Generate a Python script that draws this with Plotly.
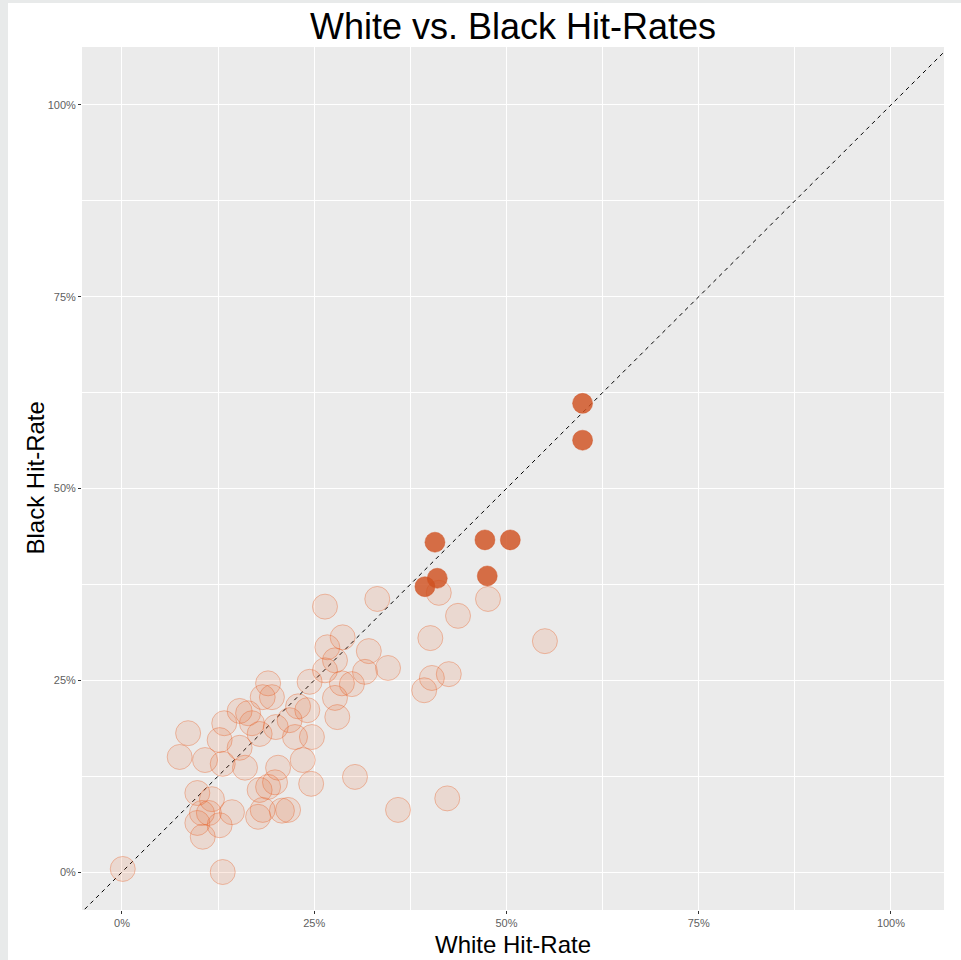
import plotly.graph_objects as go

# Light points (all cities) - White hit-rate vs Black hit-rate, in %
light_white = [0.1, 13.1, 10.5, 9.8, 12.7, 10.4, 11.3, 14.3, 9.8, 11.7,
               17.7, 18.3, 20.8, 21.6, 17.9, 19.0, 19.9, 24.6, 20.3, 23.5,
               16.0, 13.1, 10.8, 7.5, 8.6, 12.7, 15.3, 13.3, 15.3, 16.4,
               16.9, 17.9, 20.0, 21.8, 22.9, 24.1, 24.7, 22.5, 19.0, 19.5,
               18.3, 24.4, 28.0, 27.7, 29.9, 28.6, 31.6, 34.6, 32.1, 27.7,
               26.7, 28.7, 26.4, 33.2, 40.1, 41.2, 47.6, 43.7, 55.0, 40.3,
               42.5, 39.3, 30.3, 35.9, 42.3, 26.4]
light_black = [0.4, 0.0, 4.6, 6.4, 6.1, 7.7, 7.7, 7.8, 10.3, 9.5,
               7.2, 8.1, 8.0, 8.1, 10.7, 11.1, 11.7, 11.5, 13.6, 14.6,
               13.6, 14.1, 14.6, 15.0, 18.1, 17.2, 16.2, 19.4, 21.0, 20.7,
               19.4, 18.0, 18.9, 19.8, 21.6, 21.1, 17.6, 17.6, 24.6, 22.8,
               22.8, 24.8, 20.2, 22.7, 24.5, 24.6, 26.1, 26.6, 28.8, 27.6,
               29.3, 30.6, 34.6, 35.6, 30.5, 36.4, 35.6, 33.4, 30.1, 25.3,
               25.8, 23.7, 12.4, 8.1, 9.6, 26.3]

# Highlighted points
dark_white = [59.9, 59.9, 40.7, 47.2, 50.5, 41.0, 47.5, 39.4]
dark_black = [61.1, 56.3, 43.0, 43.3, 43.3, 38.3, 38.6, 37.2]

major_ticks = [0, 25, 50, 75, 100]
major_labels = ["0%", "25%", "50%", "75%", "100%"]
minor_ticks = [12.5, 37.5, 62.5, 87.5]
diag = [-10, 110]

fig = go.Figure()

fig.add_trace(go.Scatter(
    x=diag, y=diag, mode="lines",
    line=dict(color="black", width=1, dash="4px,4px"),
    hoverinfo="skip", showlegend=False))

fig.add_trace(go.Scatter(
    x=light_white, y=light_black, mode="markers",
    marker=dict(size=25, color="rgba(232,90,30,0.13)",
                line=dict(color="rgba(232,90,30,0.35)", width=1)),
    showlegend=False))

fig.add_trace(go.Scatter(
    x=dark_white, y=dark_black, mode="markers",
    marker=dict(size=20, color="rgba(208,80,32,0.82)",
                line=dict(color="rgba(208,80,32,0.9)", width=0.5)),
    showlegend=False))

axis_common = dict(
    tickvals=major_ticks, ticktext=major_labels,
    showgrid=True, gridcolor="white", gridwidth=1.4,
    zeroline=False, showline=False,
    ticks="outside", ticklen=3, tickwidth=1, tickcolor="#333333",
    tickfont=dict(family="Liberation Sans, Arial, sans-serif", size=11, color="#606060"),
    minor=dict(tickvals=minor_ticks, showgrid=True, gridcolor="white", gridwidth=0.8, ticks=""),
)

fig.update_layout(
    width=961, height=960,
    margin=dict(l=82, r=17, t=47, b=50),
    paper_bgcolor="white", plot_bgcolor="#EBEBEB",
    font=dict(family="Liberation Sans, Arial, sans-serif"),
    title=dict(text="White vs. Black Hit-Rates", x=0.5, xref="paper",
               y=1 - 26 / 960, yref="container", yanchor="middle",
               font=dict(size=36, color="black")),
    xaxis=dict(range=[-5.2, 106.9], **axis_common),
    yaxis=dict(range=[-4.95, 107.56], **axis_common),
    annotations=[
        dict(text="White Hit-Rate", x=0.5, xref="paper", y=0,
             yref="paper", yshift=-34, showarrow=False,
             font=dict(size=24, color="black"), yanchor="middle"),
        dict(text="Black Hit-Rate", x=0, xref="paper", xshift=-47, y=0.5,
             yref="paper", showarrow=False, textangle=-90,
             font=dict(size=24, color="black"), xanchor="center"),
    ],
    shapes=[
        dict(type="rect", xref="paper", yref="paper",
             x0=-82 / 862, x1=-74 / 862, y0=-50 / 863, y1=1 + 47 / 863,
             fillcolor="#E8EAEA", line=dict(width=0), layer="above"),
        dict(type="rect", xref="paper", yref="paper",
             x0=-82 / 862, x1=1 + 17 / 862, y0=1 + 44 / 863, y1=1 + 47 / 863,
             fillcolor="#E8EAEA", line=dict(width=0), layer="above"),
    ],
)

fig.write_html("out.html", config={"displayModeBar": False},
               post_script="document.body.style.margin='0';document.body.style.overflow='hidden';")
